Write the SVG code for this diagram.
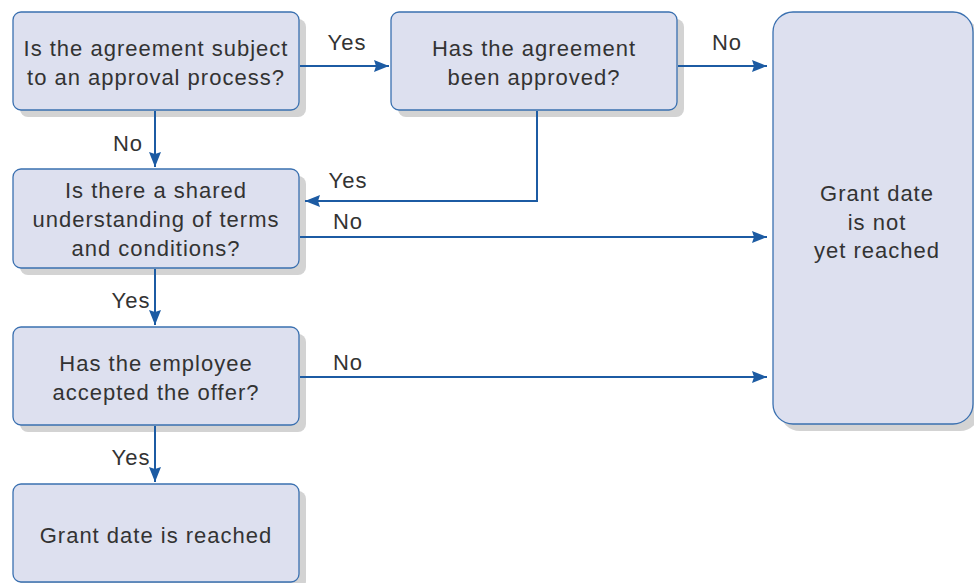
<svg xmlns="http://www.w3.org/2000/svg" width="974" height="583" viewBox="0 0 974 583">
  <defs>
    <marker id="arrow" viewBox="0 0 15 12" refX="15" refY="6" markerWidth="15" markerHeight="12" markerUnits="userSpaceOnUse" orient="auto">
      <path d="M0,0 L15,6 L0,12 L2,6 Z" fill="#1c5ba3"/>
    </marker>
  </defs>
  <style>
    .shadow { fill: #d3d3d3; }
    .box { fill: #dde0ef; stroke: #3a70b0; stroke-width: 1.3; }
    .txt, .lbl { font-family: "Liberation Sans", Arial, sans-serif; font-size: 22px; letter-spacing: 1px; fill: #333333; text-anchor: middle; }
    .conn { fill: none; stroke: #1c5ba3; stroke-width: 2; }
  </style>
  <rect width="974" height="583" fill="#ffffff"/>

  <g id="approval-process">
    <rect class="shadow" x="20" y="19" width="286" height="98" rx="8"/>
    <rect class="box" x="13" y="12" width="286" height="98" rx="8"/>
    <text class="txt" x="156" y="56">Is the agreement subject</text>
    <text class="txt" x="156" y="85">to an approval process?</text>
  </g>

  <g id="approved">
    <rect class="shadow" x="398" y="19" width="286" height="98" rx="8"/>
    <rect class="box" x="391" y="12" width="286" height="98" rx="8"/>
    <text class="txt" x="534" y="56">Has the agreement</text>
    <text class="txt" x="534" y="85">been approved?</text>
  </g>

  <g id="not-reached">
    <rect class="shadow" x="780" y="19" width="200" height="412" rx="20"/>
    <rect class="box" x="773" y="12" width="200" height="412" rx="20"/>
    <text class="txt" x="877" y="201">Grant date</text>
    <text class="txt" x="877" y="230">is not</text>
    <text class="txt" x="877" y="258">yet reached</text>
  </g>

  <g id="shared-understanding">
    <rect class="shadow" x="20" y="176" width="286" height="99" rx="8"/>
    <rect class="box" x="13" y="169" width="286" height="99" rx="8"/>
    <text class="txt" x="156" y="198">Is there a shared</text>
    <text class="txt" x="156" y="227">understanding of terms</text>
    <text class="txt" x="156" y="256">and conditions?</text>
  </g>

  <g id="accepted-offer">
    <rect class="shadow" x="20" y="334" width="286" height="98" rx="8"/>
    <rect class="box" x="13" y="327" width="286" height="98" rx="8"/>
    <text class="txt" x="156" y="371">Has the employee</text>
    <text class="txt" x="156" y="400">accepted the offer?</text>
  </g>

  <g id="reached">
    <rect class="shadow" x="20" y="491" width="286" height="98" rx="8"/>
    <rect class="box" x="13" y="484" width="286" height="98" rx="8"/>
    <text class="txt" x="156" y="543">Grant date is reached</text>
  </g>

  <g id="connectors">
    <path class="conn" d="M300,66 H389" marker-end="url(#arrow)"/>
    <path class="conn" d="M678,66 H767" marker-end="url(#arrow)"/>
    <path class="conn" d="M155,111 V167" marker-end="url(#arrow)"/>
    <path class="conn" d="M537,111 V201 H305" marker-end="url(#arrow)"/>
    <path class="conn" d="M300,237 H767" marker-end="url(#arrow)"/>
    <path class="conn" d="M155,269 V325" marker-end="url(#arrow)"/>
    <path class="conn" d="M300,377 H767" marker-end="url(#arrow)"/>
    <path class="conn" d="M155,426 V482" marker-end="url(#arrow)"/>
    <text class="lbl" x="347" y="50">Yes</text>
    <text class="lbl" x="727" y="50">No</text>
    <text class="lbl" x="128" y="151">No</text>
    <text class="lbl" x="348" y="188">Yes</text>
    <text class="lbl" x="348" y="229">No</text>
    <text class="lbl" x="131" y="308">Yes</text>
    <text class="lbl" x="348" y="370">No</text>
    <text class="lbl" x="131" y="465">Yes</text>
  </g>
</svg>
